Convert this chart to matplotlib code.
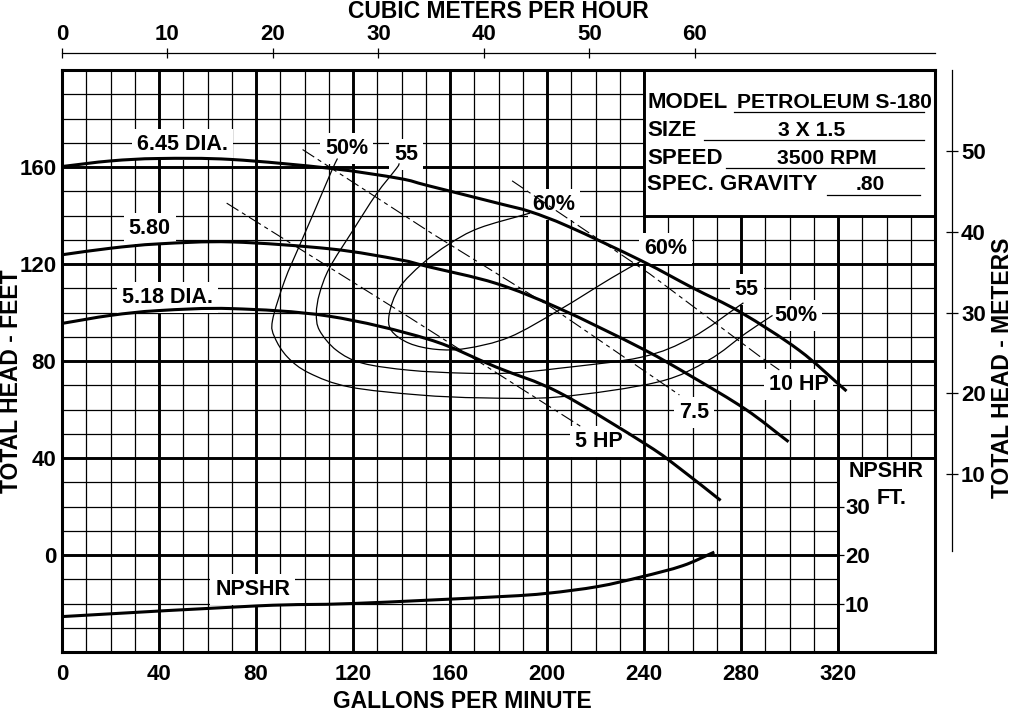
import numpy as np
import matplotlib
matplotlib.use("Agg")
import matplotlib.pyplot as plt
from matplotlib.patches import Rectangle, PathPatch
from matplotlib.path import Path

plt.rcParams['font.family'] = ['Liberation Sans', 'DejaVu Sans']
plt.rcParams['font.weight'] = 'bold'
plt.rcParams['lines.scale_dashes'] = False

# impeller head curves (gpm, feet)
dia645_gpm = [0, 20, 40, 70, 111, 139, 151, 180, 193, 209, 239, 260, 280, 304, 323.5]
dia645_ft = [160.2, 162.5, 163.5, 163.1, 159.4, 155.3, 152.3, 145, 141.6, 135.4, 121.3, 110.2, 100, 84.4, 67.6]

dia580_gpm = [0, 20, 40, 70, 111, 139, 151, 179, 205, 239, 260, 282, 299.6]
dia580_ft = [123.8, 126.5, 128.3, 129.1, 126.2, 121.8, 118.9, 112, 101.7, 85.2, 73.4, 60, 46.7]

dia518_gpm = [0, 20, 40, 70, 110, 151, 179, 205, 241, 255, 271.6]
dia518_ft = [95.5, 98.8, 100.8, 101.6, 98.5, 89, 77.5, 67, 45.5, 35.5, 22.5]

# NPSHR (gpm, NPSHR ft on its own scale)
npshr_gpm = [0, 80, 120, 180, 200, 221, 239, 256, 269]
npshr_ft = [7.3, 9.5, 10.0, 11.4, 12.1, 13.5, 15.5, 17.8, 20.6]

# efficiency contours
eff50_gpm = [113.6, 111.1, 104.1, 97.9, 91.8, 86.8, 87.7, 93, 102, 118.5, 147.3, 173.3, 205, 246, 266.7, 281.9, 293]
eff50_ft = [163.5, 158.2, 141.8, 127.5, 113.1, 96.7, 89.8, 81.6, 75, 69.3, 66, 64.8, 65.2, 71.4, 80.4, 91.4, 98.8]

eff55_gpm = [139.1, 137.9, 129.6, 119.8, 110.3, 106.2, 104.9, 106.2, 113.2, 123.9, 143.2, 165, 184.4, 205, 239, 260, 281]
eff55_ft = [161.5, 159.4, 148.8, 133.6, 118.4, 107.8, 99.6, 92.6, 84.4, 79.1, 76.2, 75, 75, 77, 81.6, 89.8, 104]

eff60_gpm = [193, 172, 159.7, 148.6, 139.1, 135, 135.8, 143.2, 154.3, 166.7, 184.4, 205, 226.7, 239]
eff60_ft = [141, 134.8, 128.3, 120.1, 110.2, 99.6, 92.6, 87.3, 84.8, 85.2, 89.8, 101, 114.3, 121.3]

# horsepower lines
hp10_gpm = [185.6, 242.4, 287.6, 295.8]
hp10_ft = [154.3, 115.9, 82, 76.3]
hp75_gpm = [99.2, 152.7, 202, 254.6]
hp75_ft = [167.2, 132.5, 102, 66]
hp5_gpm = [67.9, 143.2, 214.4]
hp5_ft = [145.1, 98, 52.7]

# curve labels (text, gpm, ft)
labels = [
    ("6.45 DIA.", 49.8, 169.3), ("5.80", 36.2, 134.8), ("5.18 DIA.", 43.6, 106.1),
    ("NPSHR", 78.6, -14.3), ("50%", 117.3, 167.6), ("55", 142, 165.3),
    ("60%", 202.9, 144.7), ("60%", 249, 126.3), ("55", 282.3, 109.5),
    ("50%", 302.5, 98.9), ("10 HP", 303.7, 70.2), ("7.5", 260.5, 58.7),
    ("5 HP", 221.4, 46.8),
]

info_keys = ["MODEL", "SIZE", "SPEED", "SPEC. GRAVITY"]
info_vals = ["PETROLEUM S-180", "3 X 1.5", "3500 RPM", ".80"]

GPM_PER_M3H = 4.35
FT_PER_M = 3.33


def smooth_curve(xs, ys):
    # catmull-rom through the read points, drawn as cubic bezier segments
    p = np.column_stack([xs, ys]).astype(float)
    ext = np.vstack([2 * p[0] - p[1], p, 2 * p[-1] - p[-2]])
    verts = [p[0]]
    codes = [Path.MOVETO]
    for i in range(1, len(ext) - 2):
        c1 = ext[i] + (ext[i + 1] - ext[i - 1]) / 6
        c2 = ext[i + 1] - (ext[i + 2] - ext[i]) / 6
        verts += [c1, c2, ext[i + 1]]
        codes += [Path.CURVE4] * 3
    return Path(verts, codes)


def draw_curve(ax, xs, ys, lw, z):
    ax.add_patch(PathPatch(smooth_curve(xs, ys), facecolor='none', edgecolor='black',
                           lw=lw, zorder=z, capstyle='butt'))


W, H = 1013, 712
fig = plt.figure(figsize=(W / 100, H / 100), dpi=100)
L, R, T, B = 62, 935, 70, 652
ax = fig.add_axes([L / W, 1 - B / H, (R - L) / W, (B - T) / H])
ax.set_xlim(0, 360)
ax.set_ylim(-40, 200)

# grid
for x in np.arange(10, 360, 10):
    major = x % 40 == 0
    ax.axvline(x, color='black', lw=2.1 if major else 0.9, zorder=0.5)
for y in np.arange(-30, 200, 10):
    major = y % 40 == 0
    ax.axhline(y, color='black', lw=2.1 if major else 0.9, zorder=0.5)
for s in ax.spines.values():
    s.set_linewidth(2.2)

# blank boxes
ax.add_patch(Rectangle((240, 140), 120, 60, facecolor='white', edgecolor='black', lw=2.1, zorder=1))
ax.add_patch(Rectangle((320, -40), 40, 80, facecolor='white', edgecolor='black', lw=2.1, zorder=1))

# labels sit on white patches over the grid, under the curves
for txt, gx, fy in labels:
    ax.text(gx, fy, txt, fontsize=15.5, ha='center', va='center', zorder=2,
            bbox=dict(facecolor='white', edgecolor='none', pad=3.5))

# head curves
for g, f in [(dia645_gpm, dia645_ft), (dia580_gpm, dia580_ft), (dia518_gpm, dia518_ft)]:
    draw_curve(ax, g, f, 2.2, 3)
draw_curve(ax, npshr_gpm, (np.array(npshr_ft) - 20) * 2, 2.2, 3)

for g, f in [(eff50_gpm, eff50_ft), (eff55_gpm, eff55_ft), (eff60_gpm, eff60_ft)]:
    draw_curve(ax, g, f, 0.9, 2.5)

for g, f in [(hp10_gpm, hp10_ft), (hp75_gpm, hp75_ft), (hp5_gpm, hp5_ft)]:
    ax.plot(g, f, color='black', lw=0.8, zorder=2.5, dashes=(10, 3, 3, 3))

# info block
key_y = [186.7, 175.2, 163.7, 152.6]
val_x = [278.4, 309.3, 315.5, 333.2]
line_spans = [(277, 355.6), (264.7, 355.6), (273.8, 355.6), (315.5, 354)]
for k, v, yy, vx, (x0, x1) in zip(info_keys, info_vals, key_y, val_x, line_spans):
    ax.text(241.3, yy, k, fontsize=16, ha='left', va='center', zorder=4)
    ax.text(vx, yy, v, fontsize=15.2, ha='left' if vx < 280 else 'center', va='center', zorder=4)
    ax.plot([x0, x1], [yy - 4.1, yy - 4.1], color='black', lw=0.9, zorder=4)

ax.text(340, 34.5, "NPSHR", fontsize=15.5, ha='center', va='center', zorder=4)
ax.text(342, 23.5, "FT.", fontsize=15.5, ha='center', va='center', zorder=4)

# main ticks
ax.set_xticks(np.arange(0, 321, 40))
ax.set_yticks(np.arange(0, 161, 40))
ax.tick_params(axis='both', length=0, labelsize=16)
ax.tick_params(axis='x', pad=9)
ax.tick_params(axis='y', pad=4)

# top axis, m3/h
top = ax.secondary_xaxis(1 + 17 / (B - T), functions=(lambda g: g / GPM_PER_M3H, lambda m: m * GPM_PER_M3H))
top.set_xticks(np.arange(0, 61, 10))
top.tick_params(direction='inout', length=7, width=0.9, labelsize=16, pad=2)
top.spines['top'].set_linewidth(0.9)

# right axis, meters
right = ax.secondary_yaxis((952 - L) / (R - L), functions=(lambda f: f / FT_PER_M, lambda m: m * FT_PER_M))
right.set_yticks(np.arange(10, 51, 10))
right.tick_params(direction='inout', length=9, width=0.9, labelsize=16, pad=2)
right.spines['right'].set_linewidth(0.9)
right.spines['right'].set_bounds(0.5, 200 / FT_PER_M)

# NPSHR scale
nps = ax.secondary_yaxis(320 / 360, functions=(lambda h: 20 + h / 2, lambda n: (n - 20) * 2))
nps.set_yticks([10, 20, 30])
nps.tick_params(direction='out', length=4, width=0.9, labelsize=16, pad=1)
nps.spines['right'].set_visible(False)
nps.set_zorder(6)

fig.text(498 / W, 1 - 11 / H, "CUBIC METERS PER HOUR", fontsize=16.5, ha='center', va='center')
fig.text(462 / W, 1 - 701 / H, "GALLONS PER MINUTE", fontsize=16.5, ha='center', va='center')
fig.text(12 / W, 1 - 381 / H, "TOTAL HEAD - FEET", fontsize=16.5, ha='center', va='center', rotation=90)
fig.text(1002 / W, 1 - 368 / H, "TOTAL HEAD - METERS", fontsize=16.5, ha='center', va='center', rotation=90)

fig.savefig("out.png", dpi=100, facecolor='white')
